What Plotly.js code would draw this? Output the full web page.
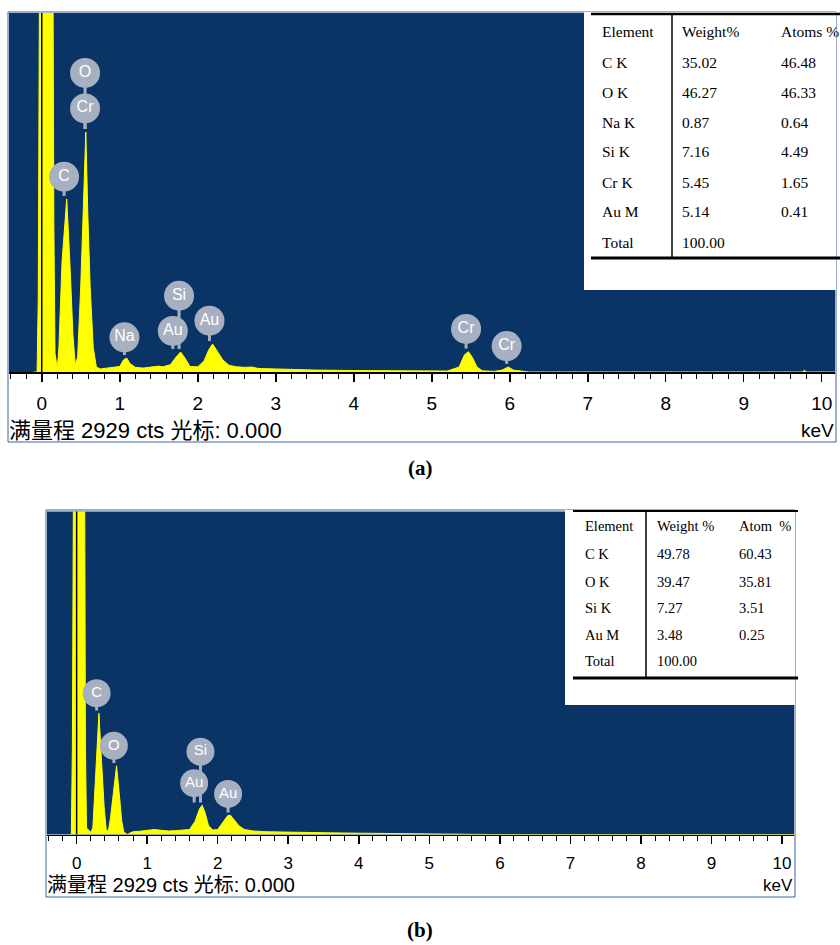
<!DOCTYPE html>
<html>
<head>
<meta charset="utf-8">
<script src="https://cdn.plot.ly/plotly-3.0.1.min.js"></script>
<style>html,body{margin:0;padding:0;background:#fff;}#chart{width:840px;height:945px;}</style>
</head>
<body>
<div id="chart"></div>
<script>
// ---------- DATA ----------
// Spectrum (a): energy (keV) and counts
const energyA = [-0.10,-0.06,-0.045,-0.03,0.0,0.08,0.14,0.155,0.17,0.20,0.22,0.26,0.32,0.36,0.40,0.43,0.46,0.50,0.54,0.565,0.59,0.62,0.66,0.70,0.75,0.80,0.90,1.00,1.05,1.09,1.13,1.20,1.30,1.40,1.50,1.55,1.65,1.72,1.78,1.84,1.90,2.00,2.08,2.14,2.19,2.25,2.32,2.40,2.50,2.60,2.70,2.75,2.80,3.00,3.20,3.50,4.00,4.50,5.00,5.20,5.35,5.42,5.47,5.52,5.58,5.65,5.80,5.90,5.98,6.05,6.15,6.25,9.75,9.78,9.80,10.2];
const countsA = [0,0,600,3500,8000,9000,4000,1200,150,30,200,900,1412,900,300,60,120,700,1500,1958,1300,700,200,40,25,30,35,45,100,114,70,38,32,40,48,42,60,120,163,110,45,42,90,180,228,170,100,55,42,38,40,32,28,25,20,16,12,9,7,8,40,140,166,120,40,10,5,15,41,15,8,0,0,15,0,0];
// Spectrum (b)
const energyB = [-0.10,-0.075,-0.06,-0.04,0.0,0.08,0.11,0.125,0.14,0.20,0.23,0.27,0.316,0.35,0.39,0.42,0.45,0.48,0.53,0.566,0.60,0.64,0.67,0.72,0.76,0.80,0.90,1.00,1.10,1.20,1.30,1.40,1.50,1.60,1.68,1.74,1.78,1.82,1.87,1.93,2.00,2.07,2.14,2.18,2.24,2.30,2.38,2.50,2.70,3.00,3.30,3.60,4.00,4.30,4.60,5.00,5.30,5.60,5.80,5.85,10.2];
const countsB = [0,0,800,4000,8000,8000,4000,800,60,20,60,600,1099,700,250,40,30,150,450,623,400,120,20,0,15,25,30,35,45,38,32,35,38,45,120,230,265,200,80,40,45,110,170,175,130,80,45,32,25,20,18,15,12,10,7,5,4,3,2,0,0];

// Peak labels
const labelsA = ["O","Cr","C","Na","Si","Au","Au","Cr","Cr"];
const labelsB = ["C","O","Si","Au","Au"];

// Quantification tables
const tableHeadA = ["Element","Weight%","Atoms %"];
const elementsA = ["C K","O K","Na K","Si K","Cr K","Au M","Total"];
const weightA = ["35.02","46.27","0.87","7.16","5.45","5.14","100.00"];
const atomA = ["46.48","46.33","0.64","4.49","1.65","0.41",""];

const tableHeadB = ["Element","Weight %","Atom  %"];
const elementsB = ["C K","O K","Si K","Au M","Total"];
const weightB = ["49.78","39.47","7.27","3.48","100.00"];
const atomB = ["60.43","35.81","3.51","0.25",""];

const tickVals = [0,1,2,3,4,5,6,7,8,9,10];
const fullScaleText = "满量程 2929 cts 光标: 0.000";
const unitText = "keV";
const fullScale = 2929;

// ---------- LAYOUT HELPERS ----------
const W = 840, H = 945;
const px = x => x / W;
const py = y => 1 - y / H;

// label placement (keV, counts) for bubble center and stem end
const labPosA = {x:[0.555,0.555,0.286,1.06,1.76,1.68,2.15,5.44,5.96], y:[2440,2150,1593,283,622,335,419,351,212], stem:[1958,1958,1412,114,163,163,228,166,41]};
const labPosB = {x:[0.283,0.528,1.756,1.666,2.147], y:[1281,804,751,465,368], stem:[1099,623,265,265,175]};

const YEL = '#ffff00', BLUE = '#0a3466', BUB = '#a7b0c1';

function stemTraces(pos, xa, ya) {
  const xs = [], ys = [];
  pos.x.forEach((x,i) => { xs.push(x, x, null); ys.push(pos.y[i], pos.stem[i] + 25, null); });
  return {x: xs, y: ys, xaxis: xa, yaxis: ya, mode: 'lines', line: {color: BUB, width: 3}, hoverinfo: 'skip', showlegend: false};
}

const traces = [
  {x: energyA, y: countsA, xaxis: 'x', yaxis: 'y', mode: 'lines', fill: 'tozeroy', fillcolor: YEL, line: {color: YEL, width: 1}, showlegend: false},
  {x: energyB, y: countsB, xaxis: 'x2', yaxis: 'y2', mode: 'lines', fill: 'tozeroy', fillcolor: YEL, line: {color: YEL, width: 1}, showlegend: false},
  stemTraces(labPosA, 'x', 'y'),
  stemTraces(labPosB, 'x2', 'y2'),
  {x: labPosA.x, y: labPosA.y, text: labelsA, xaxis: 'x', yaxis: 'y', mode: 'markers+text', marker: {size: 30, color: BUB}, textposition: 'middle center', textfont: {family: 'Liberation Sans, Arial', size: 16, color: '#ffffff'}, showlegend: false},
  {x: labPosB.x, y: labPosB.y, text: labelsB, xaxis: 'x2', yaxis: 'y2', mode: 'markers+text', marker: {size: 28, color: BUB}, textposition: 'middle center', textfont: {family: 'Liberation Sans, Arial', size: 15, color: '#ffffff'}, showlegend: false}
];

function xaxisDef(domain, fontSize, standoff) {
  return {
    domain: domain, range: [-0.42, 10.17], tickvals: tickVals, ticktext: tickVals.map(String),
    ticks: 'outside', ticklen: 8, tickwidth: 1.5, tickcolor: '#000',
    minor: {dtick: 0.2, tick0: 0, ticks: 'outside', ticklen: 5, tickwidth: 1, tickcolor: '#000'},
    showline: true, linecolor: '#000', linewidth: 1.5, showgrid: false, zeroline: false,
    tickfont: {family: 'Liberation Sans, Arial', size: fontSize, color: '#000'},
    ticklabelstandoff: standoff, fixedrange: true
  };
}

const shapes = [];
const annotations = [];

// box borders
shapes.push({type:'rect', xref:'paper', yref:'paper', x0:px(8), x1:px(836), y0:py(442), y1:py(12), line:{color:'#3d62a0', width:1}, fillcolor:'rgba(0,0,0,0)', layer:'below'});
shapes.push({type:'rect', xref:'paper', yref:'paper', x0:px(46), x1:px(795), y0:py(897), y1:py(510), line:{color:'#3d62a0', width:1}, fillcolor:'rgba(0,0,0,0)', layer:'below'});
// cursor lines at 0 keV
shapes.push({type:'line', xref:'x', yref:'y domain', x0:0, x1:0, y0:0, y1:1, line:{color:'#000', width:1.5}, layer:'above'});
shapes.push({type:'line', xref:'x2', yref:'y2 domain', x0:0, x1:0, y0:0, y1:1, line:{color:'#000', width:1.5}, layer:'above'});
// table backgrounds
shapes.push({type:'rect', xref:'paper', yref:'paper', x0:px(584), x1:px(836), y0:py(290), y1:py(12), fillcolor:'#fff', line:{width:0}, layer:'above'});
shapes.push({type:'rect', xref:'paper', yref:'paper', x0:px(565), x1:px(795), y0:py(705), y1:py(510), fillcolor:'#fff', line:{width:0}, layer:'above'});
// table lines (a)
shapes.push({type:'line', xref:'paper', yref:'paper', x0:px(591), x1:px(840), y0:py(14), y1:py(14), line:{color:'#000', width:2.5}, layer:'above'});
shapes.push({type:'line', xref:'paper', yref:'paper', x0:px(591), x1:px(840), y0:py(258), y1:py(258), line:{color:'#000', width:3}, layer:'above'});
shapes.push({type:'line', xref:'paper', yref:'paper', x0:px(672), x1:px(672), y0:py(14), y1:py(258), line:{color:'#000', width:1.5}, layer:'above'});
// table lines (b)
shapes.push({type:'line', xref:'paper', yref:'paper', x0:px(573), x1:px(798), y0:py(511), y1:py(511), line:{color:'#000', width:2}, layer:'above'});
shapes.push({type:'line', xref:'paper', yref:'paper', x0:px(573), x1:px(798), y0:py(678), y1:py(678), line:{color:'#000', width:3}, layer:'above'});
shapes.push({type:'line', xref:'paper', yref:'paper', x0:px(646), x1:px(646), y0:py(511), y1:py(678), line:{color:'#000', width:1.5}, layer:'above'});

function tableText(head, cols, colX, rowY, size) {
  const serif = 'Liberation Serif, Times New Roman, serif';
  head.forEach((h, j) => annotations.push({xref:'paper', yref:'paper', x:px(colX[j]), y:py(rowY[0]), text:h, showarrow:false, xanchor:'left', yanchor:'middle', borderpad:0, font:{family:serif, size:size, color:'#000'}}));
  cols.forEach((col, j) => col.forEach((v, i) => {
    if (v === '') return;
    annotations.push({xref:'paper', yref:'paper', x:px(colX[j]), y:py(rowY[i+1]), text:v, showarrow:false, xanchor:'left', yanchor:'middle', borderpad:0, font:{family:serif, size:size, color:'#000'}});
  }));
}
tableText(tableHeadA, [elementsA, weightA, atomA], [601, 681, 780], [31, 63, 93, 122, 152, 182, 212, 243], 15.5);
tableText(tableHeadB, [elementsB, weightB, atomB], [584, 656, 738], [526, 554, 582, 608, 635, 661], 14.5);

// bottom info text
const sans = 'Liberation Sans, Noto Sans CJK SC, sans-serif';
annotations.push({xref:'paper', yref:'paper', x:px(8), y:py(430), text:fullScaleText, showarrow:false, xanchor:'left', yanchor:'middle', borderpad:0, font:{family:sans, size:22, color:'#000'}});
annotations.push({xref:'paper', yref:'paper', x:px(835), y:py(430), text:unitText, showarrow:false, xanchor:'right', yanchor:'middle', borderpad:0, font:{family:sans, size:19, color:'#000'}});
annotations.push({xref:'paper', yref:'paper', x:px(46), y:py(885), text:fullScaleText, showarrow:false, xanchor:'left', yanchor:'middle', borderpad:0, font:{family:sans, size:20, color:'#000'}});
annotations.push({xref:'paper', yref:'paper', x:px(794), y:py(885), text:unitText, showarrow:false, xanchor:'right', yanchor:'middle', borderpad:0, font:{family:sans, size:17, color:'#000'}});
// panel captions
annotations.push({xref:'paper', yref:'paper', x:px(420), y:py(468), text:'<b>(a)</b>', showarrow:false, xanchor:'center', yanchor:'middle', font:{family:'Liberation Serif, Times New Roman, serif', size:21, color:'#000'}});
annotations.push({xref:'paper', yref:'paper', x:px(420), y:py(930), text:'<b>(b)</b>', showarrow:false, xanchor:'center', yanchor:'middle', font:{family:'Liberation Serif, Times New Roman, serif', size:21, color:'#000'}});

const layout = {
  width: W, height: H, margin: {l:0, r:0, t:0, b:0},
  paper_bgcolor: '#fff', plot_bgcolor: BLUE, showlegend: false,
  xaxis: Object.assign(xaxisDef([px(9), px(835)], 19, 6), {anchor:'y'}),
  yaxis: {domain: [py(372), py(13)], range: [0, fullScale], visible: false, fixedrange: true, anchor:'x'},
  xaxis2: Object.assign(xaxisDef([px(47), px(794)], 17, 5), {anchor:'y2'}),
  yaxis2: {domain: [py(834.5), py(511.5)], range: [0, fullScale], visible: false, fixedrange: true, anchor:'x2'},
  shapes: shapes, annotations: annotations
};

Plotly.newPlot('chart', traces, layout, {staticPlot: true, displayModeBar: false});
</script>
</body>
</html>
